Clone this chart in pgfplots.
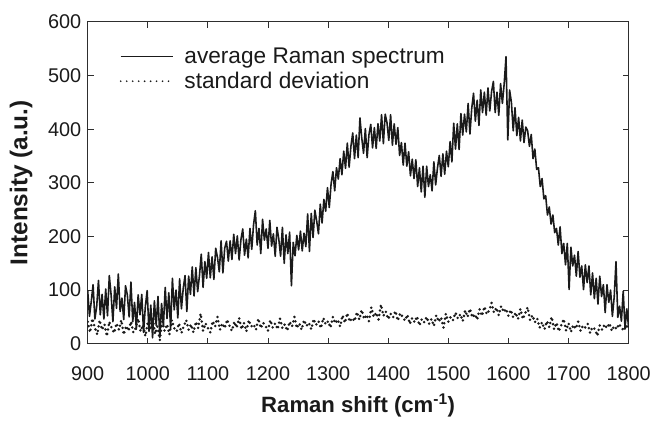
\documentclass[border=0pt]{standalone}
\usepackage{fontspec}
\setmainfont{Liberation Sans}
\usepackage{pgfplots}
\pgfplotsset{compat=1.18}
\definecolor{ink}{HTML}{1A1A1A}
\definecolor{frame}{HTML}{2E2E2E}
\begin{document}
\begin{tikzpicture}
\begin{axis}[
  scale only axis,
  width=543bp, height=323bp,
  xmin=900, xmax=1800, ymin=0, ymax=600,
  xtick={900,1000,...,1800},
  ytick={0,100,...,600},
  tick align=inside,
  major tick length=6bp,
  axis line style={frame, line width=0.9pt},
  every tick/.style={frame, line width=0.9pt},
  /pgf/number format/assume math mode=true,
  /pgf/number format/set thousands separator={},
  scaled ticks=false,
  ticklabel style={font=\fontsize{20}{24}\selectfont, text=ink},
  xticklabel style={yshift=-20bp},
  yticklabel style={xshift=-3bp},
  xlabel={\textbf{Raman shift (cm\textsuperscript{-1})}},
  ylabel={\textbf{Intensity (a.u.)}},
  xlabel style={font=\fontsize{22.3}{26}\selectfont, text=ink, at={(axis description cs:0.5,0)}, anchor=north, yshift=-47bp},
  ylabel style={font=\fontsize{24.5}{28}\selectfont, text=ink, at={(axis description cs:0,0.5)}, anchor=south, yshift=52bp},
  legend style={at={(axis description cs:0.059,0.925)}, anchor=north west,
    draw=none, fill=none, inner sep=0pt, row sep=3bp,
    font=\fontsize{22.8}{27}\selectfont, text=ink},
  legend cell align=left,
  clip=true,
]
\addplot[ink, line width=1.6pt, line join=round,
  legend image code/.code={\draw[ink, line width=1.1pt] (0bp,0bp) -- (52bp,0bp); \path[draw=none] (0bp,0bp) -- (62bp,0bp);}]
coordinates {
(900,100) (903,51) (906,79) (909,110) (912,46) (915,69) (918,118) (921,54) (924,92) (927,46)
(930,102) (933,52) (936,127) (939,91) (942,41) (945,106) (948,66) (951,130) (954,60) (957,85)
(960,45) (963,108) (966,91) (969,50) (972,115) (975,41) (978,77) (981,27) (984,91) (987,54)
(990,92) (993,21) (996,70) (999,99) (1002,23) (1005,72) (1008,11) (1011,80) (1014,34) (1017,88)
(1020,12) (1023,75) (1026,32) (1029,105) (1032,47) (1035,95) (1038,28) (1041,122) (1044,63) (1047,100)
(1050,48) (1053,121) (1056,65) (1059,103) (1062,127) (1065,60) (1068,126) (1071,92) (1074,143) (1077,89)
(1080,142) (1083,97) (1086,127) (1089,167) (1092,105) (1095,153) (1098,122) (1101,170) (1104,123) (1107,162)
(1110,120) (1113,178) (1116,161) (1119,134) (1122,192) (1125,132) (1128,178) (1131,191) (1134,154) (1137,192)
(1140,157) (1143,204) (1146,168) (1149,201) (1152,156) (1155,194) (1158,214) (1161,165) (1164,195) (1167,160)
(1170,215) (1173,176) (1176,222) (1179,248) (1182,184) (1185,215) (1188,168) (1191,232) (1194,193) (1197,214)
(1200,178) (1203,230) (1206,182) (1209,205) (1212,163) (1215,217) (1218,195) (1221,163) (1224,217) (1227,150)
(1230,203) (1233,168) (1236,208) (1239,108) (1242,189) (1245,164) (1248,202) (1251,175) (1254,210) (1257,173)
(1260,206) (1263,181) (1266,242) (1269,172) (1272,243) (1275,198) (1278,249) (1281,229) (1284,205) (1287,260)
(1290,225) (1293,269) (1296,247) (1299,291) (1302,254) (1305,298) (1308,321) (1311,285) (1314,328) (1317,307)
(1320,345) (1323,315) (1326,359) (1329,327) (1332,374) (1335,329) (1338,368) (1341,393) (1344,345) (1347,389)
(1350,347) (1353,421) (1356,384) (1359,355) (1362,401) (1365,347) (1368,390) (1371,409) (1374,365) (1377,403)
(1380,364) (1383,410) (1386,378) (1389,427) (1392,373) (1395,428) (1398,412) (1401,379) (1404,427) (1407,370)
(1410,410) (1413,372) (1416,403) (1419,351) (1422,375) (1425,333) (1428,374) (1431,331) (1434,358) (1437,313)
(1440,344) (1443,308) (1446,343) (1449,293) (1452,328) (1455,283) (1458,331) (1461,273) (1464,331) (1467,293)
(1470,315) (1473,285) (1476,339) (1479,296) (1482,328) (1485,351) (1488,312) (1491,354) (1494,316) (1497,359)
(1500,330) (1503,377) (1506,339) (1509,411) (1512,363) (1515,410) (1518,362) (1521,429) (1524,389) (1527,428)
(1530,395) (1533,448) (1536,391) (1539,439) (1542,467) (1545,415) (1548,454) (1551,407) (1554,473) (1557,431)
(1560,469) (1563,426) (1566,477) (1569,434) (1572,470) (1575,489) (1578,431) (1581,469) (1584,426) (1587,485)
(1590,448) (1593,485) (1596,535) (1599,380) (1602,473) (1605,450) (1608,397) (1611,440) (1614,388) (1617,422)
(1620,378) (1623,417) (1626,375) (1629,404) (1632,397) (1635,368) (1638,390) (1641,345) (1644,363) (1647,325)
(1650,328) (1653,293) (1656,308) (1659,270) (1662,276) (1665,240) (1668,255) (1671,223) (1674,240) (1677,207)
(1680,215) (1683,184) (1686,218) (1689,168) (1692,187) (1695,147) (1698,187) (1701,101) (1704,180) (1707,145)
(1710,165) (1713,126) (1716,172) (1719,124) (1722,145) (1725,101) (1728,147) (1731,114) (1734,145) (1737,91)
(1740,132) (1743,84) (1746,122) (1749,74) (1752,126) (1755,88) (1758,110) (1761,58) (1764,110) (1767,77)
(1770,100) (1773,51) (1776,87) (1779,153) (1782,49) (1785,70) (1788,42) (1791,98) (1794,29) (1797,65)
(1800,30)
};
\addlegendentry{average Raman spectrum}
\addplot[ink, line width=2.8pt, line cap=round, dash pattern=on 0pt off 4.6pt,
  legend image code/.code={\draw[ink, line width=1.9pt, line cap=round, dash pattern=on 0pt off 6bp] (0bp,0bp) -- (52bp,0bp); \path[draw=none] (0bp,0bp) -- (62bp,0bp);}]
coordinates {
(900,41) (904,21) (908,47) (912,29) (916,17) (920,44) (924,26) (928,36) (932,14) (936,41)
(940,29) (944,20) (948,38) (952,26) (956,44) (960,17) (964,33) (968,24) (972,41) (976,21)
(980,30) (984,47) (988,23) (992,35) (996,14) (1000,39) (1004,27) (1008,50) (1012,18) (1016,32)
(1020,7) (1024,41) (1028,24) (1032,36) (1036,17) (1040,44) (1044,29) (1048,23) (1052,38) (1056,20)
(1060,33) (1064,44) (1068,26) (1072,36) (1076,21) (1080,41) (1084,29) (1088,56) (1092,24) (1096,38)
(1100,29) (1104,21) (1108,42) (1112,32) (1116,50) (1120,26) (1124,38) (1128,29) (1132,45) (1136,33)
(1140,24) (1144,41) (1148,30) (1152,48) (1156,27) (1160,39) (1164,23) (1168,44) (1172,32) (1176,36)
(1180,26) (1184,47) (1188,29) (1192,39) (1196,33) (1200,24) (1204,44) (1208,30) (1212,38) (1216,27)
(1220,47) (1224,29) (1228,36) (1232,24) (1236,41) (1240,32) (1244,50) (1248,29) (1252,38) (1256,26)
(1260,44) (1264,33) (1268,39) (1272,27) (1276,46) (1280,35) (1284,42) (1288,29) (1292,48) (1296,36)
(1300,42) (1304,30) (1308,50) (1312,38) (1316,45) (1320,32) (1324,53) (1328,39) (1332,57) (1336,41)
(1340,48) (1344,42) (1348,59) (1352,45) (1356,63) (1360,46) (1364,54) (1368,42) (1372,68) (1376,50)
(1380,58) (1384,45) (1388,73) (1392,52) (1396,60) (1400,46) (1404,56) (1408,49) (1412,61) (1416,43)
(1420,57) (1424,50) (1428,43) (1432,54) (1436,37) (1440,48) (1444,40) (1448,51) (1452,34) (1456,46)
(1460,40) (1464,50) (1468,37) (1472,46) (1476,33) (1480,53) (1484,41) (1488,49) (1492,30) (1496,56)
(1500,41) (1504,50) (1508,44) (1512,58) (1516,47) (1520,55) (1524,42) (1528,62) (1532,50) (1536,65)
(1540,49) (1544,55) (1548,45) (1552,64) (1556,52) (1560,69) (1564,55) (1568,62) (1572,76) (1576,58)
(1580,67) (1584,53) (1588,70) (1592,59) (1596,65) (1600,52) (1604,63) (1608,49) (1612,58) (1616,46)
(1620,65) (1624,46) (1628,57) (1632,68) (1636,44) (1640,53) (1644,40) (1648,47) (1652,30) (1656,40)
(1660,27) (1664,42) (1668,31) (1672,50) (1676,27) (1680,39) (1684,23) (1688,35) (1692,46) (1696,24)
(1700,38) (1704,22) (1708,35) (1712,28) (1716,41) (1720,24) (1724,34) (1728,30) (1732,37) (1736,20)
(1740,31) (1744,27) (1748,15) (1752,34) (1756,26) (1760,36) (1764,29) (1768,38) (1772,24) (1776,33)
(1780,27) (1784,37) (1788,30) (1792,24) (1796,34) (1800,27)
};
\addlegendentry{standard deviation}
\end{axis}
\path[use as bounding box] (-88bp,-73bp) rectangle (566bp,345bp);
\end{tikzpicture}
\end{document}
